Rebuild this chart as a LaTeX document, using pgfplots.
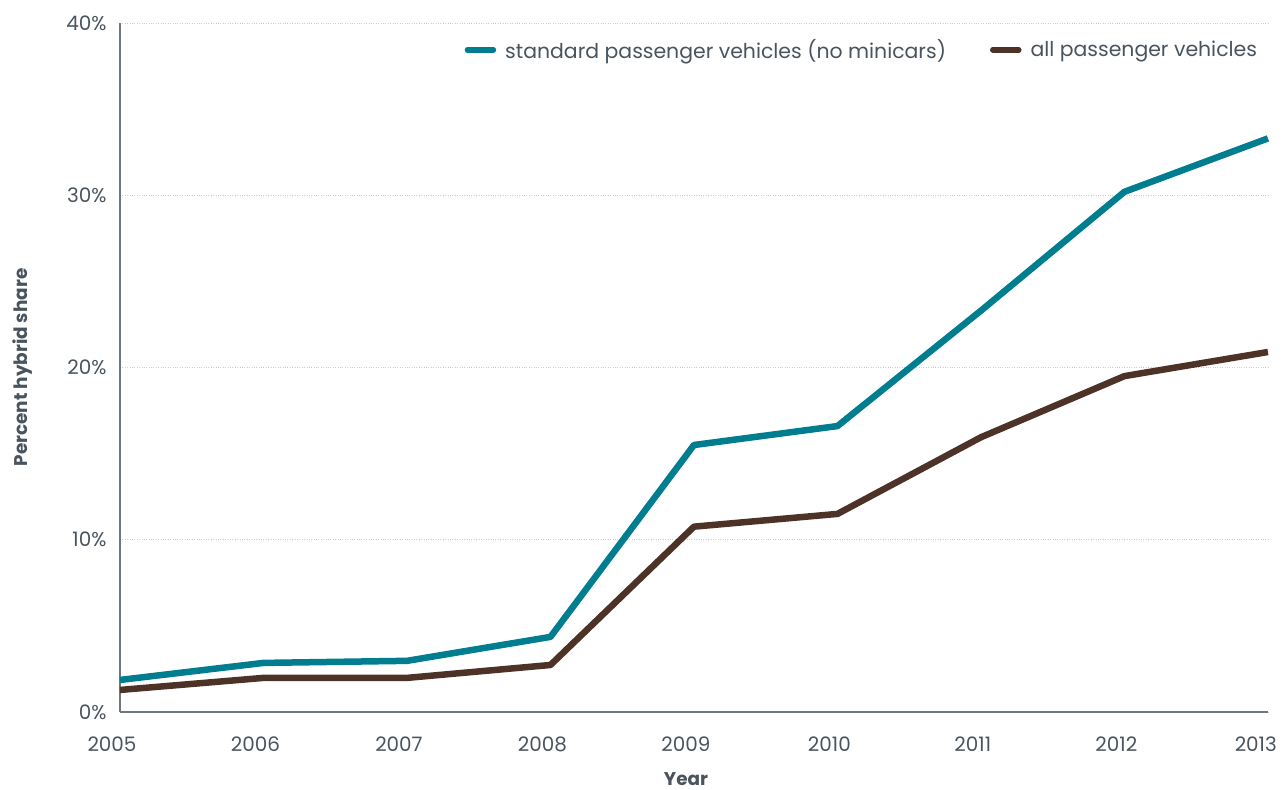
\documentclass[border=0pt]{standalone}
\usepackage{pgfplots}
\pgfplotsset{compat=1.18}
\usepackage{fontspec}
\setmainfont{Poppins}
\definecolor{teal1}{RGB}{0,125,143}
\definecolor{brown1}{RGB}{77,50,40}
\definecolor{txt}{RGB}{74,84,94}
\definecolor{axc}{RGB}{110,118,127}
\begin{document}
\begin{tikzpicture}
\useasboundingbox (-120bp,-78bp) rectangle (1163bp,712bp);
\begin{axis}[
  at={(0,0)}, anchor=south west,
  scale only axis, width=1148bp, height=689bp,
  xmin=2005, xmax=2013, ymin=0, ymax=40,
  xtick={2005,...,2013}, ytick={0,10,20,30,40},
  /pgf/number format/assume math mode=true,
  xticklabels={2005,2006,2007,2008,2009,2010,2011,2012,2013\hspace*{8bp}},
  yticklabel={\pgfmathprintnumber{\tick}\%},
  tick style={draw=none},
  axis x line*=bottom, axis y line*=left,
  axis line style={axc, line width=1.2pt, -},
  ymajorgrids, grid style={gray!40, dotted, line width=0.8pt},
  ticklabel style={font=\fontsize{20}{23}\selectfont, text=txt},
  xticklabel style={yshift=-21bp, xshift=-8bp},
  yticklabel style={xshift=-10bp},
  xlabel={\bfseries Year}, ylabel={\bfseries Percent hybrid share},
  label style={font=\fontsize{18.5}{21}\selectfont, text=txt},
  xlabel style={at={(axis description cs:0.5,0)}, anchor=north, yshift=-57bp, xshift=-8bp},
  ylabel style={at={(axis description cs:0,0.5)}, anchor=south, yshift=84bp},
  legend style={at={(rel axis cs:0.995,0.961)}, anchor=east, draw=none, fill=none,
    font=\fontsize{20.5}{23}\selectfont, text=txt, legend columns=2,
    /tikz/every odd column/.append style={column sep=7bp},
    /tikz/every even column/.append style={column sep=42bp}},
  legend image code/.code={\draw[#1, line cap=round, line width=5.5bp] (0bp,0bp) -- (26bp,0bp);},
  clip=false,
]
\addplot[teal1, line width=6.5bp, line join=round] coordinates {
(2005,1.86) (2006,2.85) (2007,2.97) (2008,4.36) (2009,15.5) (2010,16.6) (2011,23.3) (2012,30.2) (2013,33.3)};
\addlegendentry{standard passenger vehicles (no minicars)}
\addplot[brown1, line width=6.5bp, line join=round] coordinates {
(2005,1.28) (2006,1.98) (2007,1.98) (2008,2.73) (2009,10.76) (2010,11.5) (2011,15.95) (2012,19.5) (2013,20.9)};
\addlegendentry{all passenger vehicles}
\end{axis}
\end{tikzpicture}
\end{document}
